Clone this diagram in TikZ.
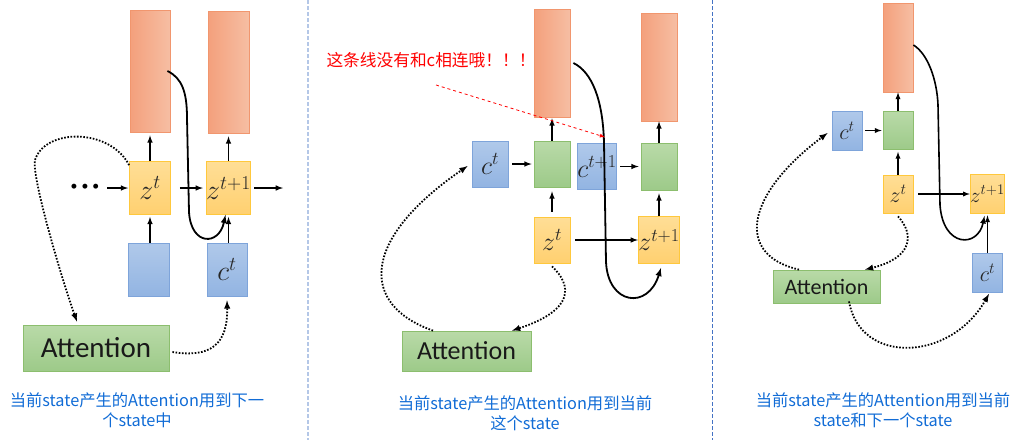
\RequirePackage{fix-cm}
\documentclass[tikz,border=0pt]{standalone}
\usepackage{fontspec}
\newfontfamily\cjk{Noto Sans CJK SC}
\newfontfamily\calib{Carlito}
\usetikzlibrary{arrows}

\definecolor{orangeL}{RGB}{244,160,124}
\definecolor{orangeR}{RGB}{246,190,163}
\definecolor{orangeE}{RGB}{241,150,110}
\definecolor{yelT}{RGB}{255,222,150}
\definecolor{yelB}{RGB}{255,208,112}
\definecolor{yelE}{RGB}{255,200,60}
\definecolor{bluT}{RGB}{176,201,234}
\definecolor{bluB}{RGB}{146,180,226}
\definecolor{bluE}{RGB}{126,164,218}
\definecolor{grnT}{RGB}{185,218,168}
\definecolor{grnB}{RGB}{157,202,137}
\definecolor{grnE}{RGB}{140,190,110}
\definecolor{capblue}{RGB}{17,108,214}
\definecolor{sepA}{RGB}{180,199,231}
\definecolor{sepB}{RGB}{68,114,196}

\tikzset{
  wh/.style 2 args={minimum width=#1pt, minimum height=#2pt, inner sep=0pt},
  sz/.style={font=\fontsize{#1}{#1}\selectfont},
  outbox/.style={draw=orangeE, left color=orangeL, right color=orangeR, line width=0.8pt},
  zbox/.style={draw=yelE, top color=yelT, bottom color=yelB, line width=0.8pt, text=black!85},
  cbox/.style={draw=bluE, top color=bluT, bottom color=bluB, line width=0.8pt, text=black!85},
  gbox/.style={draw=grnE, top color=grnT, bottom color=grnB, line width=0.8pt},
  attbox/.style={draw=grnE, top color=grnT, bottom color=grnB, line width=0.8pt, text=black!90},
  flow/.style={->, line width=1.5pt},
  jump/.style={->, line width=1.8pt},
  attn/.style={->, line width=1.8pt, dash pattern=on 1.6pt off 1.6pt},
  note/.style={->, red, line width=0.8pt, dashed},
  caption/.style={text=capblue, font=\cjk\fontsize{16.3}{20}\selectfont, align=center}
}

\begin{document}
\begin{tikzpicture}[x=1pt, y=-1pt, >=latex]
  \useasboundingbox (0,0) rectangle (1025,440);

  % separators
  \draw[sepA, line width=2pt, dash pattern=on 4pt off 2pt] (307.5,0) -- (307.5,440);
  \draw[sepB, line width=0.8pt, dash pattern=on 4pt off 2pt] (712.5,0) -- (712.5,440);

  % ---- left: attention used by next state
  \node[outbox, wh={40}{122}] (outA1) at (150,71) {};
  \node[outbox, wh={41}{122}] (outA2) at (228.5,72) {};
  \node[zbox, wh={41}{53}, sz=28] (zA1) at (150,188) {$z^t$};
  \node[zbox, wh={41}{53}, sz=28] (zA2) at (228.5,188) {$z^{t+1}$};
  \node[cbox, wh={41}{53}] (cA0) at (148.5,269.5) {};
  \node[cbox, wh={40}{53}, sz=28] (cA) at (227,269.5) {$c^t$};
  \node[attbox, wh={146}{46}, font=\calib\fontsize{29}{29}\selectfont] (attA) at (96,348) {Attention};
  \node (dotsA) at (85,188) {\fontsize{22}{22}\selectfont\textbullet\kern-5pt\textbullet\kern-5pt\textbullet};
  \coordinate (endA) at (283,188);

  \draw[flow, shorten >=1pt] (dotsA) -- (zA1);
  \draw[flow, shorten <=9pt, shorten >=3pt] (zA1) -- (zA2);
  \draw[flow, shorten <=3pt] (zA2) -- (endA);
  \draw[flow, shorten >=3pt] (zA1.north) -- (outA1.south);
  \draw[flow, shorten >=3pt] (zA2.north) -- (outA2.south);
  \draw[flow, shorten >=2pt] (zA1.south |- cA0.north) -- (zA1.south);
  \draw[flow, shorten >=2pt] (zA2.south |- cA.north) -- (zA2.south);
  \draw[jump] ([xshift=-3pt]outA1.east) .. controls (182,78) and (187,92) .. (187,118)
    -- (189,212) .. controls (191,246) and (219,246) .. ([xshift=-3pt]zA2.south);
  \draw[attn] ([yshift=-4pt]zA1.north west) .. controls (110,128) and (45,128) .. (35,160)
    .. controls (31,175) and (62,280) .. ([xshift=-19pt,yshift=3pt]attA.north);
  \draw[attn] ([xshift=3pt,yshift=-4pt]attA.east) .. controls (210,358) and (228,345) .. ([yshift=-4pt]cA.south);

  \node[caption] (capA) at (137,410) {当前state产生的Attention用到下一\\个state中};

  % ---- middle: attention used by current state
  \node[outbox, wh={36}{108}] (outB1) at (552,63) {};
  \node[outbox, wh={36}{108}] (outB2) at (659,67) {};
  \node[cbox, wh={36}{46}, sz=26] (cB1) at (490,164) {$c^t$};
  \node[gbox, wh={36}{46}] (gB1) at (552,164) {};
  \node[cbox, wh={36}{46}, sz=26] (cB2) at (597,166.5) {$c^{t+1}$};
  \node[gbox, wh={36}{47}] (gB2) at (659,166.5) {};
  \node[zbox, wh={36}{46}, sz=26] (zB1) at (552,240) {$z^t$};
  \node[zbox, wh={36}{47}, sz=26] (zB2) at (659,240) {$z^{t+1}$};
  \node[attbox, wh={129}{40}, font=\calib\fontsize{26}{26}\selectfont] (attB) at (466.5,351) {Attention};

  \draw[flow, shorten <=4pt, shorten >=2pt] (cB1) -- (gB1);
  \draw[flow, shorten <=3pt, shorten >=2pt] (cB2) -- (gB2);
  \draw[flow, shorten <=5pt] (zB1) -- (zB2);
  \draw[flow, shorten >=1pt] (gB1.north) -- (outB1.south);
  \draw[flow, shorten <=5pt, shorten >=4pt] (zB1.north) -- (gB1.south);
  \draw[flow] (gB2.north) -- (outB2.south);
  \draw[flow, shorten >=3pt] (zB2.north) -- (gB2.south);
  \draw[jump] ([xshift=3pt]outB1.east) .. controls (592,72) and (603,100) .. (604,143)
    -- (606,262) .. controls (608,305) and (648,310) .. ([xshift=2pt,yshift=-4pt]zB2.south);
  \draw[attn] ([xshift=-33.5pt]attB.north) .. controls (360,305) and (360,240) .. ([xshift=-4pt,yshift=-2pt]cB1.west);
  \draw[attn] ([yshift=-3pt]zB1.south) .. controls (572,285) and (575,310) .. ([xshift=45.5pt]attB.north);

  \node[text=red, font=\cjk\fontsize{16.7}{18}\selectfont] (noteB) at (431,60) {这条线没有和c相连哦！！！};
  \coordinate (noteTail) at (436,85);
  \draw[note] (noteTail) -- ([xshift=8pt,yshift=6pt]cB2.north);

  \node[caption] (capB) at (525,413) {当前state产生的Attention用到当前\\这个state};

  % ---- right: attention used by current and next state
  \node[outbox, wh={30}{89}] (outC) at (898,47.5) {};
  \node[cbox, wh={30}{39}, sz=22] (cC1) at (847,130.5) {$c^t$};
  \node[gbox, wh={30}{38}] (gC) at (898,130.5) {};
  \node[zbox, wh={30}{38}, sz=22] (zC1) at (898,194) {$z^t$};
  \node[zbox, wh={31}{39}, sz=21] (zC2) at (987.5,194) {$z^{t+1}$};
  \node[cbox, wh={30}{39}, sz=22] (cC2) at (987.5,272.5) {$c^t$};
  \node[attbox, wh={107}{33}, font=\calib\fontsize{22}{22}\selectfont] (attC) at (826.5,286.5) {Attention};

  \draw[flow, line width=1.3pt, shorten <=3pt, shorten >=1pt] (cC1) -- (gC);
  \draw[flow, line width=1.3pt] (gC.north) -- (outC.south);
  \draw[flow, line width=1.3pt, shorten >=2pt] (zC1.north) -- (gC.south);
  \draw[flow, line width=1.3pt, shorten <=5pt] (zC1) -- (zC2);
  \draw[flow, line width=1.3pt, shorten >=1.5pt] (cC2.north) -- (zC2.south);
  \draw[jump, line width=1.6pt] ([yshift=2.5pt]outC.east) .. controls (928,54) and (937,80) .. (938,105)
    -- (940,205) .. controls (943,248) and (978,248) .. ([xshift=-3pt,yshift=-2pt]zC2.south);
  \draw[attn] ([xshift=-27.5pt]attC.north) .. controls (735,255) and (745,195) .. ([xshift=-4pt,yshift=-2.5pt]cC1.west);
  \draw[attn] ([yshift=-3pt]zC1.south) .. controls (915,235) and (912,258) .. ([xshift=38.5pt]attC.north);
  \draw[attn] ([xshift=22.5pt,yshift=2pt]attC.south) .. controls (860,365) and (950,362) .. ([xshift=1.5pt,yshift=-1.5pt]cC2.south);

  \node[caption] (capC) at (883,410.5) {当前state产生的Attention用到当前\\state和下一个state};
\end{tikzpicture}
\end{document}
